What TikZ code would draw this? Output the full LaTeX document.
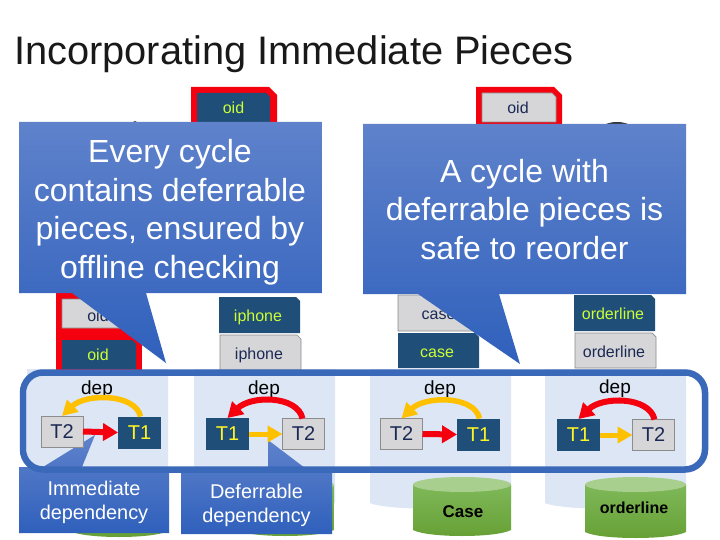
\documentclass[tikz,border=0pt]{standalone}
\usepackage{fontspec}
\setmainfont{Liberation Sans}
\usetikzlibrary{arrows.meta}
\definecolor{darkb}{HTML}{1F4E79}
\definecolor{grayb}{HTML}{D6D6D8}
\definecolor{grayl}{HTML}{8C8C8C}
\definecolor{navyt}{HTML}{1B2A55}
\definecolor{limet}{HTML}{CCFF33}
\definecolor{pane}{HTML}{DCE6F4}
\definecolor{bandc}{HTML}{3B69B9}
\definecolor{redc}{HTML}{F5000F}
\definecolor{goldc}{HTML}{FFC000}
\definecolor{darkc}{HTML}{333840}
\definecolor{calltop}{HTML}{5F82CB}
\definecolor{callbot}{HTML}{2F60BC}
\definecolor{cyla}{HTML}{7FB859}
\definecolor{cylb}{HTML}{66A034}
\definecolor{cylc}{HTML}{A9CF8F}
\tikzset{
  x=1pt,y=-1pt,
  ptext/.style={inner sep=0pt,outer sep=0pt,font=\fontsize{16}{18}\selectfont,text height=12pt,text depth=3pt},
  darkpiece/.style={fill=darkb},
  graypiece/.style={fill=grayb,draw=grayl,line width=.7pt},
  dtext/.style={ptext,text=limet},
  gtext/.style={ptext,text=navyt},
  redframe/.style={fill=redc},
  tdark/.style={fill=darkb,text=yellow!85!white,minimum width=43pt,minimum height=32pt,inner sep=0pt,outer sep=0pt,font=\fontsize{20}{22}\selectfont},
  tgray/.style={fill=grayb,draw=grayl,line width=.7pt,text=navyt,minimum width=42pt,minimum height=31pt,inner sep=0pt,outer sep=0pt,font=\fontsize{20}{22}\selectfont},
  deplabel/.style={font=\fontsize{19}{21}\selectfont,text=black,inner sep=0pt},
  redline/.style={draw=redc,line width=6pt,-{Triangle[length=15pt,width=17pt]}},
  goldline/.style={draw=goldc,line width=5.5pt,-{Triangle[length=15pt,width=16pt]}},
  panebody/.style={fill=pane},
  callout/.style={top color=calltop,bottom color=callbot,draw=none},
  callbig/.style={text=white,align=center,inner sep=0pt,font=\fontsize{32}{38.5}\selectfont},
  callsmall/.style={text=white,align=center,inner sep=0pt,font=\fontsize{19.9}{24}\selectfont},
  cylbody/.style={top color=cyla,bottom color=cylb},
  cyltop/.style={fill=cylc},
  cyltext/.style={font=\bfseries\fontsize{16}{18}\selectfont,text=black,inner sep=0pt},
}
\newcommand{\panebox}[1]{\path[panebody] (#1,369) -- (#1+141,369) -- (#1+141,503) .. controls (#1+125,511) and (#1+16,511) .. (#1,503) -- cycle;}
\newcommand{\cyl}[4]{%
  \path[cylbody] (#1,#3) -- (#1,#4-6) .. controls (#1+15,#4+2) and (#2-15,#4+2) .. (#2,#4-6) -- (#2,#3) -- cycle;
  \path[cyltop] ({(#1+#2)/2},#3) ellipse ({(#2-#1)/2} and 7.5);}
% style, x1, y1, x2, y2, chamfer
\newcommand{\snip}[6]{\path[#1] (#2,#3) -- (#4-#6,#3) -- (#4,#3+#6) -- (#4,#5) -- (#2,#5) -- cycle;}
\begin{document}
\begin{tikzpicture}
\useasboundingbox (0,0) rectangle (720,540);
\fill[white] (0,0) rectangle (720,540);
\node[anchor=west,inner sep=0pt,font=\fontsize{39.8}{44}\selectfont,text=black!90] (title) at (14,54) {Incorporating Immediate Pieces};

% hidden dark tops
\fill[darkc] (135,126) ellipse (4 and 5);
\fill[darkc] (617,127) ellipse (13.5 and 5);

% light panels
\panebox{27}\panebox{194}\panebox{370}\panebox{545}

% cylinders
\cyl{70}{168}{485}{537}
\cyl{236}{334}{485}{536}
\cyl{413}{511}{484.5}{536}
\cyl{585}{686}{484.5}{538}
\node[cyltext,font=\bfseries\fontsize{17}{18}\selectfont] (casetext) at (463,512) {Case};
\node[cyltext] (ordertext) at (634,508) {orderline};

% red framed pieces
\snip{redframe}{191}{87}{277}{131}{8}
\snip{darkpiece}{197}{93}{270}{122}{4}
\node[dtext] (oid1) at (233.5,109) {oid};
\snip{redframe}{476}{87}{562}{131}{8}
\snip{graypiece}{482}{93}{556}{122}{4}
\node[gtext] (oid2) at (518,109) {oid};
\path[redframe] (56,285) rectangle (142,375);
\snip{graypiece}{62}{299}{136}{328}{4}
\node[gtext] (oid3) at (98,316.5) {oid};
\snip{darkpiece}{62}{340}{136}{369}{4}
\node[dtext] (oid4) at (98,355.5) {oid};

\snip{darkpiece}{219}{297}{300}{333}{4}
\node[dtext] (ip1) at (258,316.5) {iphone};
\snip{graypiece}{220}{335}{301}{370}{4}
\node[gtext] (ip2) at (259,354.5) {iphone};
\snip{graypiece}{398}{295}{479}{331}{4}
\node[gtext] (cs1) at (438.5,314.5) {case};
\snip{darkpiece}{398}{333}{479}{368}{4}
\node[dtext] (cs2) at (437,352.5) {case};
\snip{darkpiece}{574}{295}{655}{331}{4}
\node[dtext] (ol1) at (613,314.5) {orderline};
\snip{graypiece}{575}{333}{656}{368}{4}
\node[gtext] (ol2) at (614,352.5) {orderline};

% big callouts
\path[callout] (19,122) -- (322,122) -- (322,293) -- (146,293) -- (166,363) -- (72,293) -- (19,293) -- cycle;
\node[callbig] (c1) at (170,212) {Every cycle\\contains deferrable\\pieces, ensured by\\offline checking};
\path[callout] (363,124) -- (686,124) -- (686,294) -- (499,294) -- (520,364) -- (418,294) -- (363,294) -- cycle;
\node[callbig] (c2) at (524.5,209.5) {A cycle with\\deferrable pieces is\\safe to reorder};

% small callouts
\path[callout] (19,467) -- (43,467) -- (95,435) -- (82,467) -- (169,467) -- (169,533) -- (19,533) -- cycle;
\node[callsmall] (c3) at (94,502) {Immediate\\dependency};
\path[callout] (181,468) -- (268,468) -- (268,440) -- (305,468) -- (332,468) -- (332,534) -- (181,534) -- cycle;
\node[callsmall] (c4) at (256.5,505) {Deferrable\\dependency};

% band
\draw[bandc,line width=6.5pt,rounded corners=20pt] (23,372.5) rectangle (705,469.5);

% transactions
\node[deplabel] (d1) at (97,390) {dep};
\node[tgray] (a2) at (62,431.5) {T2};
\node[tdark] (a1) at (139.5,432.5) {T1};
\draw[redline] (a2.east) -- (a1.west);
\draw[goldline] ([xshift=1pt]a1.north) .. controls +(-5,-23) and +(24,-23) .. ([xshift=0pt]a2.north);

\node[deplabel] (d2) at (264,390) {dep};
\node[tdark] (b1) at (227.5,434) {T1};
\node[tgray] (b2) at (303.5,434) {T2};
\draw[goldline,line width=5pt] (b1.east) -- (b2.west);
\draw[redline] ([xshift=-1pt]b2.north) .. controls +(-5,-23) and +(24,-23) .. ([xshift=0pt]b1.north);

\node[deplabel] (d3) at (440,390) {dep};
\node[tgray] (e2) at (401.5,434) {T2};
\node[tdark] (e1) at (478.5,434.5) {T1};
\draw[redline] (e2.east) -- (e1.west);
\draw[goldline] ([xshift=1pt]e1.north) .. controls +(-5,-23) and +(24,-23) .. ([xshift=0pt]e2.north);

\node[deplabel] (d4) at (615,389) {dep};
\node[tdark] (f1) at (578.5,435) {T1};
\node[tgray] (f2) at (653.5,435) {T2};
\draw[goldline,line width=5pt] (f1.east) -- (f2.west);
\draw[redline] ([xshift=1pt]f2.north) .. controls +(-5,-23) and +(24,-23) .. ([xshift=0pt]f1.north);
\end{tikzpicture}
\end{document}
